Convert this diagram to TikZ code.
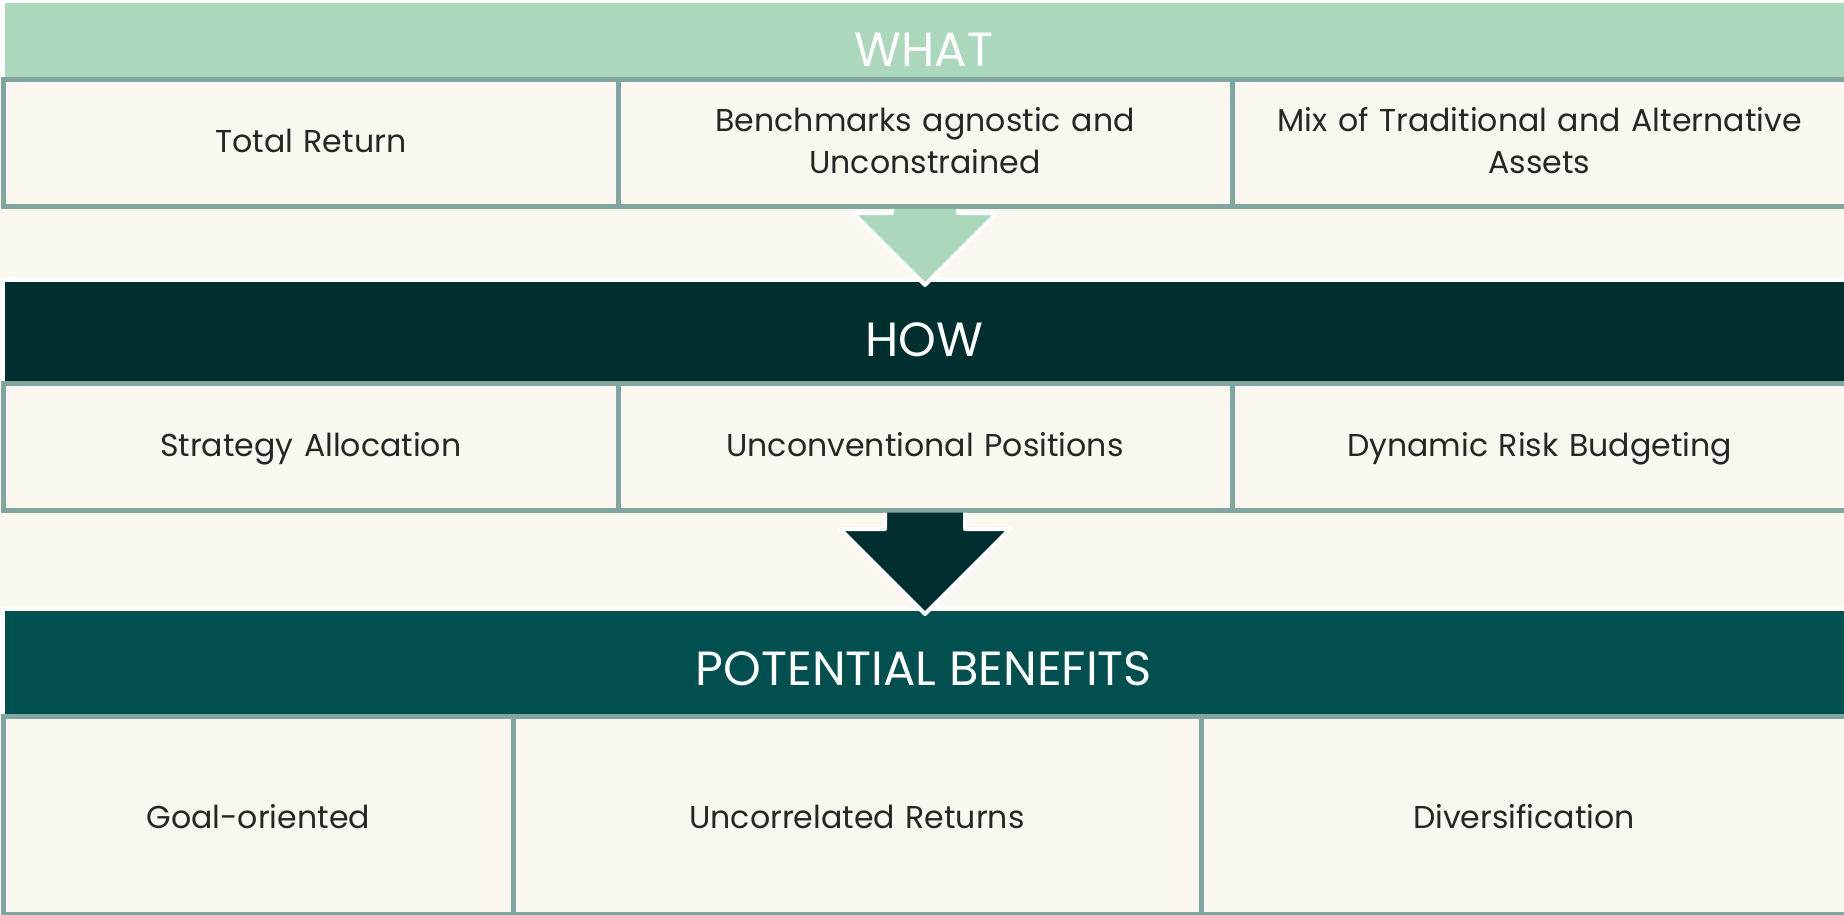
\documentclass[tikz,border=0pt]{standalone}
\usepackage{fontspec}
\setmainfont{Poppins}
\usetikzlibrary{calc}

\definecolor{cream}{HTML}{F9F7EF}
\definecolor{mint}{HTML}{ABD8BC}
\definecolor{pine}{HTML}{012F2F}
\definecolor{deepteal}{HTML}{024F50}
\definecolor{cellrule}{HTML}{80A69F}
\definecolor{ink}{HTML}{262626}

\newcommand\bodyfont{\fontsize{31.6bp}{42bp}\selectfont}
\newcommand\headfont{\fontsize{48bp}{58bp}\selectfont}
% line strut that keeps every cell's text block centred the same way
\newcommand\cellstrut{\rule[-11bp]{0pt}{42bp}}
\newcommand\lowered[1]{\raisebox{-3bp}{#1}}

% Block arrow pointing down: #1 colour, #2 top of shaft, #3 tip,
% #4 half shaft width, #5 half head width (45 degree head)
\newcommand\stagearrow[5]{%
  \fill[#1] ($(#2)+(-#4,0)$) -- ($(#3)+(-#4,-#5)$) -- ($(#3)+(-#5,-#5)$) -- (#3)
    -- ($(#3)+(#5,-#5)$) -- ($(#3)+(#4,-#5)$) -- ($(#2)+(#4,0)$) -- cycle;
  \draw[white, line width=4bp, line join=round]
    ($(#2)+(-#4,0)$) -- ($(#3)+(-#4,-#5)$) -- ($(#3)+(-#5,-#5)$) -- (#3)
    -- ($(#3)+(#5,-#5)$) -- ($(#3)+(#4,-#5)$) -- ($(#2)+(#4,0)$);
}

\begin{document}
\begin{tikzpicture}[x=1bp, y=-1bp,
  bar/.style={draw=white, line width=5bp, inner sep=0pt, minimum width=1847.5bp},
  headtext/.style={text=white, font=\headfont, inner sep=0pt, anchor=base},
  cell/.style={draw=cellrule, line width=5bp, fill=cream, inner sep=0pt,
    align=center, text=ink, font=\bodyfont,
    execute at begin node=\cellstrut, execute at end node=\cellstrut},
]
\useasboundingbox (0,0) rectangle (1844,915);
\fill[cream] (0,0) rectangle (1844,915);

% section bars
\node[bar, fill=mint,     minimum height=78.5bp]  (what) at (926.25,39.75)  {};
\node[bar, fill=pine,     minimum height=104.5bp] (how)  at (926.25,331.75) {};
\node[bar, fill=deepteal, minimum height=107.5bp] (pb)   at (926.25,662.25) {};

\node[headtext] (whatlabel) at (924,66)  {WHAT};
\node[headtext] (howlabel)  at (924,356) {HOW};
\node[headtext] (pblabel)   at (924,685) {POTENTIAL BENEFITS};

% WHAT row
\node[cell, minimum width=614.5bp, minimum height=127bp, text width=570bp] (w1) at (310.75,142.8) {Total Return};
\node[cell, minimum width=614bp,   minimum height=127bp, text width=570bp] (w2) at (925,142.8)    {Benchmarks agnostic and\\Unconstrained};
\node[cell, minimum width=615bp,   minimum height=127bp, text width=590bp] (w3) at (1539.5,142.8) {Mix of Traditional and Alternative\\Assets};

% HOW row
\node[cell, minimum width=614.5bp, minimum height=126.5bp, text width=570bp] (h1) at (310.75,446.75) {Strategy Allocation};
\node[cell, minimum width=614bp,   minimum height=126.5bp, text width=570bp] (h2) at (925,446.75)    {Unconventional Positions};
\node[cell, minimum width=615bp,   minimum height=126.5bp, text width=590bp] (h3) at (1539.5,446.75) {Dynamic Risk Budgeting};

% POTENTIAL BENEFITS row
\node[cell, minimum width=509.5bp, minimum height=198bp, text width=470bp] (b1) at (258.25,815) {\lowered{Goal-oriented}};
\node[cell, minimum width=688bp,   minimum height=198bp, text width=640bp] (b2) at (857,815)    {\lowered{Uncorrelated Returns}};
\node[cell, minimum width=646bp,   minimum height=198bp, text width=600bp] (b3) at (1524,815)   {\lowered{Diversification}};

% arrows between stages
\coordinate (a1top) at (w2.south);
\coordinate (a1tip) at ($(w2.south |- how.north)+(0,8)$);
\stagearrow{mint}{a1top}{a1tip}{33}{72}

\coordinate (a2top) at (h2.south);
\coordinate (a2tip) at ($(h2.south |- pb.north)+(0,8)$);
\stagearrow{pine}{a2top}{a2tip}{40}{85}
\end{tikzpicture}
\end{document}
